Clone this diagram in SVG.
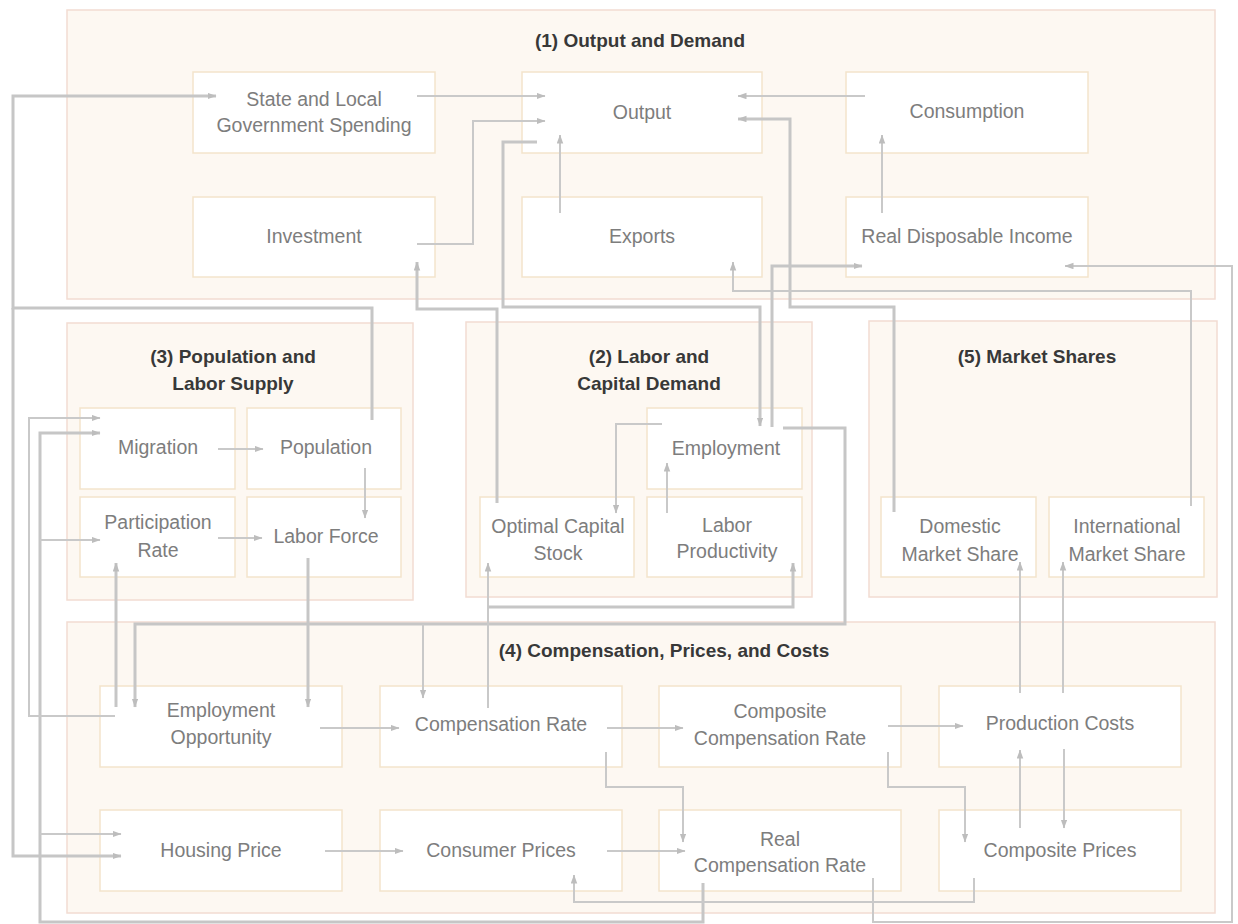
<svg xmlns="http://www.w3.org/2000/svg" width="1238" height="924" viewBox="0 0 1238 924">
<style>
.grp{fill:#fdf8f2;stroke:#f2dcd2;stroke-width:1.5}
.nd{fill:#ffffff;stroke:#f3e4cc;stroke-width:1.5}
.lbl{font-family:"Liberation Sans",Arial,sans-serif;font-size:19.5px;fill:#7d7d7d;text-anchor:middle}
.ttl{font-family:"Liberation Sans",Arial,sans-serif;font-size:19px;font-weight:bold;fill:#383838;text-anchor:middle}
.c{fill:none;stroke:#c9c9c9;stroke-width:2}
.t{fill:none;stroke:#c6c6c6;stroke-width:3}
.a{marker-end:url(#ah)}
</style>
<defs>
<marker id="ah" markerUnits="userSpaceOnUse" markerWidth="9" markerHeight="7" refX="8.5" refY="3.25" orient="auto">
<path d="M0,0 L9,3.25 L0,6.5 z" fill="#bdbdbd"/>
</marker>
</defs>
<rect width="1238" height="924" fill="#ffffff"/>
<g id="group1"><rect class="grp" x="67" y="10" width="1148" height="289"/><text class="ttl" x="640" y="47">(1) Output and Demand</text></g>
<g id="group3"><rect class="grp" x="67" y="323" width="346" height="277"/><text class="ttl" x="233" y="363">(3) Population and</text><text class="ttl" x="233" y="390">Labor Supply</text></g>
<g id="group2"><rect class="grp" x="466" y="322" width="346" height="275"/><text class="ttl" x="649" y="363">(2) Labor and</text><text class="ttl" x="649" y="390">Capital Demand</text></g>
<g id="group5"><rect class="grp" x="869" y="321" width="348" height="276"/><text class="ttl" x="1037" y="363">(5) Market Shares</text></g>
<g id="group4"><rect class="grp" x="67" y="622" width="1148" height="291"/><text class="ttl" x="664" y="657">(4) Compensation, Prices, and Costs</text></g>

<g id="state-local"><rect class="nd" x="193" y="72" width="242" height="81"/><text class="lbl" x="314" y="106">State and Local</text><text class="lbl" x="314" y="132">Government Spending</text></g>
<g id="output"><rect class="nd" x="522" y="72" width="240" height="81"/><text class="lbl" x="642" y="119">Output</text></g>
<g id="consumption"><rect class="nd" x="846" y="72" width="242" height="81"/><text class="lbl" x="967" y="118">Consumption</text></g>
<g id="investment"><rect class="nd" x="193" y="197" width="242" height="80"/><text class="lbl" x="314" y="243">Investment</text></g>
<g id="exports"><rect class="nd" x="522" y="197" width="240" height="80"/><text class="lbl" x="642" y="243">Exports</text></g>
<g id="rdi"><rect class="nd" x="846" y="197" width="242" height="80"/><text class="lbl" x="967" y="243">Real Disposable Income</text></g>

<g id="migration"><rect class="nd" x="80" y="408" width="155" height="81"/><text class="lbl" x="158" y="454">Migration</text></g>
<g id="population"><rect class="nd" x="247" y="408" width="154" height="81"/><text class="lbl" x="326" y="454">Population</text></g>
<g id="participation"><rect class="nd" x="80" y="497" width="155" height="80"/><text class="lbl" x="158" y="529">Participation</text><text class="lbl" x="158" y="557">Rate</text></g>
<g id="labor-force"><rect class="nd" x="247" y="497" width="154" height="80"/><text class="lbl" x="326" y="543">Labor Force</text></g>

<g id="employment"><rect class="nd" x="647" y="408" width="155" height="81"/><text class="lbl" x="726" y="455">Employment</text></g>
<g id="optimal-capital"><rect class="nd" x="480" y="497" width="154" height="80"/><text class="lbl" x="558" y="533">Optimal Capital</text><text class="lbl" x="558" y="560">Stock</text></g>
<g id="labor-productivity"><rect class="nd" x="647" y="497" width="155" height="80"/><text class="lbl" x="727" y="532">Labor</text><text class="lbl" x="727" y="558">Productivity</text></g>

<g id="domestic-share"><rect class="nd" x="881" y="497" width="155" height="80"/><text class="lbl" x="960" y="533">Domestic</text><text class="lbl" x="960" y="561">Market Share</text></g>
<g id="international-share"><rect class="nd" x="1049" y="497" width="155" height="80"/><text class="lbl" x="1127" y="533">International</text><text class="lbl" x="1127" y="561">Market Share</text></g>

<g id="employment-opportunity"><rect class="nd" x="100" y="686" width="242" height="81"/><text class="lbl" x="221" y="717">Employment</text><text class="lbl" x="221" y="744">Opportunity</text></g>
<g id="compensation-rate"><rect class="nd" x="380" y="686" width="242" height="81"/><text class="lbl" x="501" y="731">Compensation Rate</text></g>
<g id="composite-compensation"><rect class="nd" x="659" y="686" width="242" height="81"/><text class="lbl" x="780" y="718">Composite</text><text class="lbl" x="780" y="745">Compensation Rate</text></g>
<g id="production-costs"><rect class="nd" x="939" y="686" width="242" height="81"/><text class="lbl" x="1060" y="730">Production Costs</text></g>
<g id="housing-price"><rect class="nd" x="100" y="810" width="242" height="81"/><text class="lbl" x="221" y="857">Housing Price</text></g>
<g id="consumer-prices"><rect class="nd" x="380" y="810" width="242" height="81"/><text class="lbl" x="501" y="857">Consumer Prices</text></g>
<g id="real-compensation"><rect class="nd" x="659" y="810" width="242" height="81"/><text class="lbl" x="780" y="846">Real</text><text class="lbl" x="780" y="872">Compensation Rate</text></g>
<g id="composite-prices"><rect class="nd" x="939" y="810" width="242" height="81"/><text class="lbl" x="1060" y="857">Composite Prices</text></g>

<g id="connectors">
<path class="t a" d="M372,420 V308 H13 V96 H216"/>
<path class="t a" d="M13,308 V856 H121"/>
<path class="t a" d="M703,883 V922 H40 V433 H100"/>
<path class="c a" d="M40,540 H100"/>
<path class="c a" d="M40,834 H121"/>
<path class="c a" d="M115,716 H29 V418 H100"/>
<path class="t a" d="M116,707 V563"/>
<path class="t a" d="M308,558 V707"/>
<path class="c a" d="M365,468 V518"/>
<path class="c a" d="M218,449 H263"/>
<path class="c a" d="M218,538 H262"/>
<path class="t a" d="M783,428 H845 V624 H135 V707"/>
<path class="c a" d="M423,624 V698"/>
<path class="c a" d="M488,708 V563"/>
<path class="t a" d="M488,607 H793 V563"/>
<path class="c a" d="M662,424 H616 V513"/>
<path class="c a" d="M667,513 V463"/>
<path class="t a" d="M537,142 H503 V307 H760 V426"/>
<path class="t a" d="M497,503 V309 H417 V262"/>
<path class="c a" d="M417,244 H473 V121 H545"/>
<path class="c a" d="M417,96 H545"/>
<path class="c a" d="M560,213 V135"/>
<path class="c a" d="M865,96 H738"/>
<path class="t a" d="M894,512 V307 H790 V119 H738"/>
<path class="c a" d="M1191,506 V291 H733 V262"/>
<path class="t a" d="M772,427 V266 H862"/>
<path class="c a" d="M882,213 V135"/>
<path class="c a" d="M873,878 V922 H1232 V266 H1065"/>
<path class="c a" d="M607,728 H683"/>
<path class="c a" d="M320,728 H399"/>
<path class="c a" d="M325,851 H403"/>
<path class="c a" d="M607,851 H685"/>
<path class="c a" d="M606,752 V787 H683 V842"/>
<path class="c a" d="M888,726 H963"/>
<path class="c a" d="M888,752 V787 H965 V842"/>
<path class="c a" d="M1020,828 V750"/>
<path class="c a" d="M1064,749 V828"/>
<path class="c a" d="M1020,693 V562"/>
<path class="c a" d="M1063,693 V562"/>
<path class="c a" d="M974,878 V902 H574 V875"/>
</g>
</svg>
